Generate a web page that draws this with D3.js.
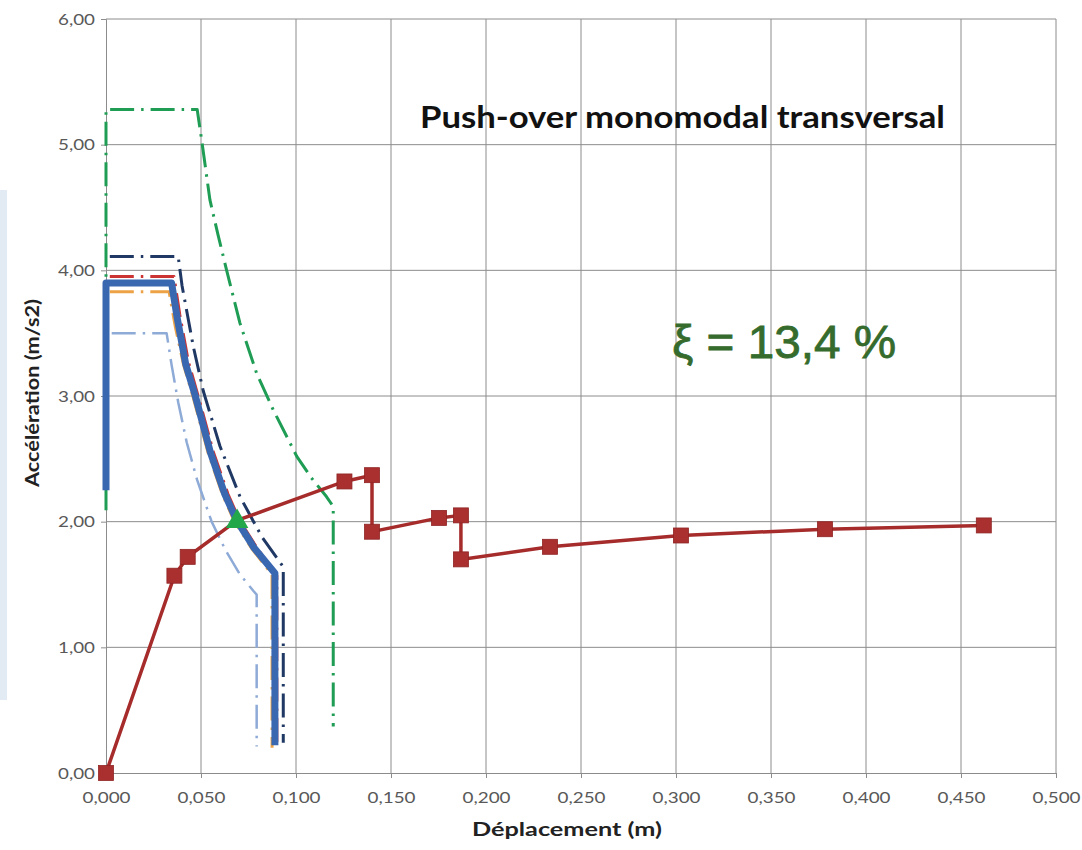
<!DOCTYPE html>
<html>
<head>
<meta charset="utf-8">
<script src="https://cdn.jsdelivr.net/npm/d3@7/dist/d3.min.js"></script>
<style>
    body { margin: 0; background: #fff; }
    svg text { font-family: Lato, "Open Sans", sans-serif; }
</style>
</head>
<body>
<div id="chart"></div>
<script>
// ticks
const xTicks = [0, 0.05, 0.1, 0.15, 0.2, 0.25, 0.3, 0.35, 0.4, 0.45, 0.5];
const yTicks = [0, 1, 2, 3, 4, 5, 6];

// demand spectra (Sd [m], Sa [m/s2])
const specGreen = [[0, 2.09], [0, 5.28], [0.048, 5.28], [0.0505, 5.02], [0.0547, 4.56], [0.059, 4.28],
    [0.0635, 4.00], [0.0705, 3.58], [0.0793, 3.18], [0.088, 2.89], [0.1004, 2.52], [0.108, 2.35],
    [0.116, 2.20], [0.1196, 2.12], [0.1196, 0.37]];
const specNavy = [[0.002, 4.11], [0.038, 4.11], [0.040, 3.88], [0.046, 3.39], [0.0512, 3.04],
    [0.060, 2.60], [0.0705, 2.20], [0.082, 1.88], [0.0933, 1.64], [0.0933, 0.24]];
const specRed = [[0.002, 3.95], [0.0358, 3.95], [0.0388, 3.65], [0.0434, 3.27], [0.0485, 3.00],
    [0.0566, 2.55], [0.0642, 2.22], [0.0703, 2.01], [0.0795, 1.79], [0.0899, 1.57], [0.0899, 0.20]];
const specOrange = [[0.002, 3.83], [0.0332, 3.83], [0.0365, 3.55], [0.0408, 3.25], [0.0457, 3.00],
    [0.0537, 2.55], [0.0612, 2.22], [0.0673, 2.01], [0.0765, 1.79], [0.0874, 1.58], [0.0874, 0.20]];
const specLight = [[0.003, 3.50], [0.0319, 3.50], [0.0345, 3.25], [0.038, 2.95], [0.0425, 2.63],
    [0.048, 2.33], [0.0556, 2.00], [0.063, 1.77], [0.0705, 1.58], [0.0775, 1.45], [0.0793, 1.42], [0.0793, 0.21]];
const specBlue = [[0, 2.25], [0, 3.90], [0.0345, 3.90], [0.0375, 3.62], [0.042, 3.25], [0.047, 3.00],
    [0.055, 2.55], [0.0625, 2.22], [0.0688, 2.01], [0.078, 1.79], [0.0889, 1.59], [0.0889, 0.22]];

// push-over capacity curve
const pushDisp = [0, 0.036, 0.043, 0.069, 0.1255, 0.140, 0.140, 0.1753, 0.1868, 0.1868, 0.2337, 0.3026, 0.3784, 0.462];
const pushAcc = [0, 1.57, 1.72, 2.01, 2.32, 2.37, 1.92, 2.03, 2.05, 1.70, 1.80, 1.89, 1.94, 1.97];

// performance point
const perfPoint = [0.069, 2.01];

const margin = {top: 19, right: 26, bottom: 77, left: 106},
    width = 1082 - margin.left - margin.right,
    height = 850 - margin.top - margin.bottom;

const svg = d3.select("#chart")
    .append("svg")
    .attr("width", 1082)
    .attr("height", 850);

// faint band on the left edge
svg.append("rect")
    .attr("x", 0).attr("y", 190)
    .attr("width", 7).attr("height", 510)
    .attr("fill", "#dbe5f1")
    .attr("opacity", 0.8);

const g = svg.append("g")
    .attr("transform", `translate(${margin.left},${margin.top})`);

const x = d3.scaleLinear().domain([0, 0.5]).range([0, width]);
const y = d3.scaleLinear().domain([0, 6]).range([height, 0]);

const fmtX = d => d3.format(".3f")(d).replace(".", ",");
const fmtY = d => d3.format(".2f")(d).replace(".", ",");

// grid
g.append("g")
    .selectAll("line")
    .data(xTicks.slice(1))
    .join("line")
    .attr("x1", d => x(d)).attr("x2", d => x(d))
    .attr("y1", 0).attr("y2", height)
    .attr("stroke", "#8c8c8c").attr("stroke-width", 1);

g.append("g")
    .selectAll("line")
    .data(yTicks.slice(1))
    .join("line")
    .attr("x1", 0).attr("x2", width)
    .attr("y1", d => y(d)).attr("y2", d => y(d))
    .attr("stroke", "#8c8c8c").attr("stroke-width", 1);

// axes
const xAxisG = g.append("g")
    .attr("transform", `translate(0,${height})`)
    .call(d3.axisBottom(x).tickValues(xTicks).tickFormat(fmtX).tickSize(5).tickPadding(14));
const yAxisG = g.append("g")
    .call(d3.axisLeft(y).tickValues(yTicks).tickFormat(fmtY).tickSize(5).tickPadding(6));

[xAxisG, yAxisG].forEach(a => {
    a.select(".domain").attr("stroke", "#8c8c8c");
    a.selectAll(".tick line").attr("stroke", "#8c8c8c");
    a.selectAll(".tick text")
        .attr("fill", "#595959")
        .attr("lengthAdjust", "spacingAndGlyphs")
        .style("font-size", "16px")
        .style("font-family", "Lato, sans-serif");
});
xAxisG.selectAll(".tick text").attr("textLength", 48);
yAxisG.selectAll(".tick text").attr("textLength", 37);

// spectra
const line = d3.line()
    .x(d => x(d[0]))
    .y(d => y(d[1]));

const dashDot = "24,7,2.5,7";
const spectra = [
    {data: specGreen, color: "#1f9d55", w: 3, dash: dashDot},
    {data: specLight, color: "#8eaad6", w: 2.5, dash: dashDot},
    {data: specNavy, color: "#1f3864", w: 3, dash: dashDot},
    {data: specOrange, color: "#eda246", w: 3, dash: dashDot},
    {data: specRed, color: "#cc3333", w: 3, dash: dashDot},
    {data: specBlue, color: "#3a68b0", w: 7, dash: null}
];

g.selectAll(".spec")
    .data(spectra)
    .join("path")
    .attr("class", "spec")
    .attr("d", d => line(d.data))
    .attr("fill", "none")
    .attr("stroke", d => d.color)
    .attr("stroke-width", d => d.w)
    .attr("stroke-dasharray", d => d.dash)
    .attr("stroke-linejoin", "round");

// push-over curve
const pushData = pushDisp.map((d, i) => [d, pushAcc[i]]);

g.append("path")
    .datum(pushData)
    .attr("d", line)
    .attr("fill", "none")
    .attr("stroke", "#a62b2b")
    .attr("stroke-width", 3.5);

g.selectAll(".mk")
    .data(pushData.filter(d => d[0] !== perfPoint[0]))
    .join("rect")
    .attr("class", "mk")
    .attr("x", d => x(d[0]) - 7.5)
    .attr("y", d => y(d[1]) - 7.5)
    .attr("width", 15)
    .attr("height", 15)
    .attr("fill", "#aa3030")
    .attr("stroke", "#8f2424")
    .attr("stroke-width", 0.8);

g.append("path")
    .attr("d", d3.symbol().type(d3.symbolTriangle).size(220)())
    .attr("transform", `translate(${x(perfPoint[0])},${y(perfPoint[1]) + 1})`)
    .attr("fill", "#22a84a");

// texts
svg.append("text")
    .attr("x", 420).attr("y", 128)
    .attr("textLength", 525)
    .attr("lengthAdjust", "spacingAndGlyphs")
    .style("font-size", "30px")
    .style("font-weight", "bold")
    .attr("fill", "#111")
    .text("Push-over monomodal transversal");

svg.append("text")
    .attr("x", 672).attr("y", 358)
    .attr("textLength", 224)
    .attr("lengthAdjust", "spacingAndGlyphs")
    .style("font-family", "'Liberation Sans', Arial, sans-serif")
    .style("font-size", "46px")
    .attr("fill", "#356b2c")
    .attr("stroke", "#356b2c")
    .attr("stroke-width", 0.8)
    .text("ξ = 13,4 %");

svg.append("text")
    .attr("x", 567).attr("y", 836)
    .attr("text-anchor", "middle")
    .attr("textLength", 190)
    .attr("lengthAdjust", "spacingAndGlyphs")
    .style("font-size", "19px")
    .style("font-weight", "bold")
    .attr("fill", "#222")
    .text("Déplacement (m)");

svg.append("text")
    .attr("transform", "translate(39,393) rotate(-90)")
    .attr("text-anchor", "middle")
    .attr("textLength", 188)
    .attr("lengthAdjust", "spacingAndGlyphs")
    .style("font-size", "19px")
    .style("font-weight", "bold")
    .attr("fill", "#222")
    .text("Accélération (m/s2)");
</script>
</body>
</html>
